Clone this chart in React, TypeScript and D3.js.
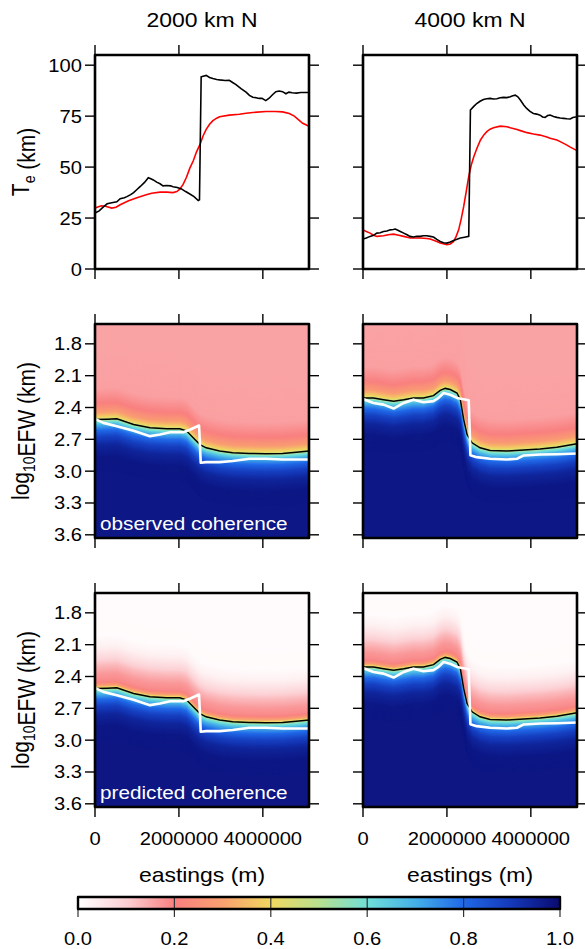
import { useEffect, useRef } from "react";
import * as d3 from "d3";

type Pt = [number, number];

const FONT = "'Liberation Sans', Arial, Helvetica, sans-serif";
const SX = 1.12; // the reference is stretched sideways, so is its text

const titles = ["2000 km N", "4000 km N"];
const teTicks = [0, 25, 50, 75, 100];
const efwTicks = [1.8, 2.1, 2.4, 2.7, 3.0, 3.3, 3.6];
const eastTicks = [0, 2000000, 4000000];
const cbTicks = [0, 0.2, 0.4, 0.6, 0.8, 1.0];

// coherence colour scale
const cohStops = [0, 0.1, 0.2, 0.3, 0.4, 0.5, 0.6, 0.7, 0.8, 0.9, 1.0];
const cohColors = ["#ffffff", "#fcd0d4", "#f98080", "#f9a070", "#f0d860", "#b8e090", "#70e0d8", "#45b0e8", "#2068e8", "#1438b8", "#0a0a70"];

// Te (km) along eastings (m): black = input model, red = recovered
const te2000Black: Pt[] = [
  [0, 27.5], [0.1e6, 28.5], [0.2e6, 30.5], [0.29e6, 32], [0.4e6, 32.5], [0.52e6, 33], [0.6e6, 34.5], [0.7e6, 35],
  [0.76e6, 35.5], [0.85e6, 36.5], [0.92e6, 37.5], [1.0e6, 39], [1.08e6, 40.5], [1.18e6, 42.5], [1.27e6, 44.8],
  [1.33e6, 44.3], [1.39e6, 43.7], [1.47e6, 42.6], [1.55e6, 41.8], [1.62e6, 40.8], [1.71e6, 41], [1.8e6, 40.8],
  [1.86e6, 40.4], [1.96e6, 40], [2.06e6, 39.3], [2.16e6, 38], [2.26e6, 36.8], [2.36e6, 35.5], [2.46e6, 33.6],
  [2.49e6, 34], [2.53e6, 94.3], [2.65e6, 95], [2.73e6, 94], [2.81e6, 93.5], [2.9e6, 93], [2.97e6, 92.8],
  [3.1e6, 92.5], [3.2e6, 92.6], [3.28e6, 91.5], [3.36e6, 90.5], [3.48e6, 88.5], [3.6e6, 86.8], [3.68e6, 85.2],
  [3.76e6, 84.3], [3.84e6, 84], [3.91e6, 83.7], [3.98e6, 83.8], [4.07e6, 82.6], [4.15e6, 83.8], [4.23e6, 85.5],
  [4.31e6, 87], [4.39e6, 87.3], [4.47e6, 87], [4.55e6, 86], [4.62e6, 86.8], [4.7e6, 86.5], [4.8e6, 86.3],
  [4.9e6, 86.6], [5.1e6, 86.6],
];
const te2000Red: Pt[] = [
  [0, 29.9], [0.15e6, 31], [0.25e6, 30.8], [0.4e6, 29.9], [0.5e6, 30.3], [0.6e6, 31.5], [0.8e6, 33.5], [1.0e6, 35],
  [1.2e6, 36.3], [1.35e6, 37.2], [1.55e6, 37.7], [1.71e6, 37.7], [1.86e6, 37.5], [1.95e6, 38], [2.02e6, 39.2],
  [2.1e6, 41.5], [2.18e6, 45], [2.26e6, 49.5], [2.34e6, 53], [2.42e6, 57.5], [2.5e6, 61], [2.58e6, 65.5],
  [2.65e6, 68.5], [2.73e6, 71], [2.81e6, 72.8], [2.9e6, 74], [2.97e6, 74.7], [3.2e6, 75.5], [3.44e6, 75.9],
  [3.6e6, 76.4], [3.76e6, 76.8], [4.07e6, 77.3], [4.3e6, 77.3], [4.47e6, 77.1], [4.63e6, 76.3], [4.75e6, 75],
  [4.86e6, 73], [4.95e6, 71.5], [5.1e6, 70],
];
const te4000Black: Pt[] = [
  [0, 14.7], [0.08e6, 15.2], [0.17e6, 16], [0.25e6, 16.5], [0.33e6, 17.6], [0.41e6, 17.8], [0.49e6, 18.4],
  [0.57e6, 18.6], [0.65e6, 19.2], [0.72e6, 19.4], [0.77e6, 19.6], [0.83e6, 19], [0.89e6, 18.4], [0.97e6, 17.6],
  [1.05e6, 16.8], [1.12e6, 16], [1.2e6, 15.7], [1.28e6, 16.1], [1.36e6, 16], [1.44e6, 16.3], [1.52e6, 16.3],
  [1.6e6, 16], [1.68e6, 15.7], [1.76e6, 14.5], [1.84e6, 13.5], [1.92e6, 12.9], [2.0e6, 12.7], [2.08e6, 13.3],
  [2.16e6, 14], [2.24e6, 14.6], [2.32e6, 15.2], [2.42e6, 15.6], [2.52e6, 16], [2.56e6, 78], [2.64e6, 79.8],
  [2.71e6, 81.2], [2.79e6, 82.3], [2.87e6, 83.2], [2.95e6, 83.5], [3.03e6, 83.7], [3.11e6, 83.4], [3.19e6, 83.5],
  [3.27e6, 84], [3.35e6, 84.2], [3.43e6, 84.1], [3.51e6, 84.5], [3.57e6, 85], [3.63e6, 85.3], [3.69e6, 84.5],
  [3.75e6, 82.9], [3.83e6, 80.5], [3.9e6, 78.8], [3.98e6, 77.3], [4.06e6, 76.3], [4.14e6, 76], [4.22e6, 75.5],
  [4.28e6, 74.6], [4.34e6, 74.4], [4.4e6, 75.3], [4.46e6, 75.5], [4.54e6, 74.8], [4.62e6, 74.4], [4.7e6, 74.1],
  [4.78e6, 73.9], [4.86e6, 73.7], [4.94e6, 73.6], [5.0e6, 74.3], [5.1e6, 74.7],
];
const te4000Red: Pt[] = [
  [0, 19.2], [0.08e6, 18.4], [0.17e6, 17.6], [0.25e6, 16.6], [0.33e6, 16], [0.49e6, 16.3], [0.6e6, 16.8],
  [0.73e6, 17.1], [0.85e6, 16.6], [0.97e6, 16], [1.13e6, 15.2], [1.36e6, 15.2], [1.52e6, 15], [1.6e6, 14.7],
  [1.76e6, 13.5], [1.84e6, 12.7], [2.0e6, 11.9], [2.08e6, 12.3], [2.16e6, 13.5], [2.22e6, 16], [2.28e6, 19.2],
  [2.34e6, 24.5], [2.4e6, 30.7], [2.46e6, 38], [2.52e6, 45.4], [2.58e6, 51], [2.64e6, 55.1], [2.72e6, 59.5],
  [2.8e6, 63.3], [2.88e6, 65.8], [2.95e6, 67.4], [3.03e6, 68.6], [3.11e6, 69.3], [3.27e6, 70.1], [3.43e6, 69.8],
  [3.51e6, 69.3], [3.67e6, 68.4], [3.75e6, 67.9], [3.91e6, 66.9], [4.06e6, 66.2], [4.22e6, 65.7], [4.38e6, 64.8],
  [4.46e6, 64.1], [4.62e6, 63.3], [4.7e6, 62.5], [4.86e6, 60.8], [4.94e6, 59.8], [5.1e6, 58.1],
];

// log10 EFW (km) of the 0.5 coherence transition (black) and of the model (white)
const efw2000Black: Pt[] = [
  [0, 2.514], [0.29e6, 2.51], [0.52e6, 2.507], [0.92e6, 2.56], [1.31e6, 2.59], [1.71e6, 2.6], [2.02e6, 2.6],
  [2.18e6, 2.62], [2.34e6, 2.686], [2.5e6, 2.75], [2.65e6, 2.78], [2.97e6, 2.81], [3.28e6, 2.827], [3.68e6, 2.833],
  [4.07e6, 2.836], [4.47e6, 2.833], [4.86e6, 2.82], [5.1e6, 2.81],
];
const efw2000White: Pt[] = [
  [0, 2.507], [0.2e6, 2.545], [0.52e6, 2.576], [0.92e6, 2.62], [1.31e6, 2.67], [1.55e6, 2.655], [1.79e6, 2.633],
  [2.1e6, 2.633], [2.26e6, 2.61], [2.48e6, 2.57], [2.52e6, 2.92], [2.65e6, 2.915], [2.97e6, 2.915], [3.28e6, 2.905],
  [3.68e6, 2.883], [4.07e6, 2.883], [4.47e6, 2.89], [5.1e6, 2.89],
];
const efw4000Black: Pt[] = [
  [0, 2.31], [0.25e6, 2.31], [0.49e6, 2.326], [0.73e6, 2.34], [0.97e6, 2.326], [1.2e6, 2.31], [1.44e6, 2.31],
  [1.68e6, 2.288], [1.84e6, 2.238], [1.96e6, 2.22], [2.08e6, 2.23], [2.24e6, 2.263], [2.32e6, 2.326], [2.4e6, 2.514],
  [2.48e6, 2.655], [2.6e6, 2.733], [2.79e6, 2.78], [3.03e6, 2.805], [3.43e6, 2.81], [3.83e6, 2.8], [4.22e6, 2.79],
  [4.62e6, 2.774], [5.1e6, 2.742],
];
const efw4000White: Pt[] = [
  [0, 2.32], [0.25e6, 2.357], [0.49e6, 2.373], [0.73e6, 2.41], [0.97e6, 2.357], [1.2e6, 2.326], [1.44e6, 2.35],
  [1.68e6, 2.34], [1.8e6, 2.31], [1.92e6, 2.263], [2.08e6, 2.28], [2.24e6, 2.31], [2.52e6, 2.332], [2.56e6, 2.849],
  [2.71e6, 2.868], [3.03e6, 2.883], [3.43e6, 2.89], [3.67e6, 2.883], [3.83e6, 2.852], [4.22e6, 2.843],
  [4.62e6, 2.84], [5.1e6, 2.833],
];

// coherence against depth offset from the black line (log10 units, + is longer wavelength)
const obsOffset = [-1.3, -0.3, -0.16, -0.08, -0.03, 0, 0.02, 0.05, 0.1, 0.16, 0.24, 0.35, 1.3];
const obsCoh = [0.15, 0.16, 0.2, 0.28, 0.38, 0.5, 0.6, 0.7, 0.8, 0.88, 0.94, 0.97, 0.98];
const predOffset = [-1.3, -0.5, -0.4, -0.3, -0.22, -0.14, -0.07, -0.03, 0, 0.02, 0.05, 0.1, 0.16, 0.24, 0.35, 1.3];
const predCoh = [0.0, 0.01, 0.03, 0.08, 0.13, 0.17, 0.19, 0.3, 0.5, 0.6, 0.7, 0.8, 0.88, 0.94, 0.97, 0.99];

const colX = [95, 363];
const rowY = [55, 324, 593];
const PW = 214;
const PH = 214;

export default function App() {
  const svgRef = useRef<SVGSVGElement>(null);

  useEffect(() => {
    const svg = d3.select(svgRef.current);
    svg.selectAll("*").remove();

    const cmap = d3.scaleLinear<string>().domain(cohStops).range(cohColors).interpolate(d3.interpolateRgb).clamp(true);
    const defs = svg.append("defs");

    const text = (g: any, x: number, y: number, s: string, size: number, anchor = "middle", fill = "#000") =>
      g.append("text")
        .attr("transform", `translate(${x},${y}) scale(${SX},1)`)
        .attr("text-anchor", anchor)
        .attr("font-family", FONT)
        .attr("font-size", size)
        .attr("fill", fill)
        .text(s);

    const panel = (col: number, row: number) => {
      const left = colX[col];
      const top = rowY[row];
      const x = d3.scaleLinear().domain([0, 5.1e6]).range([left, left + PW]);
      const y = row === 0
        ? d3.scaleLinear().domain([0, 105]).range([top + PH, top])
        : d3.scaleLinear().domain([1.613, 3.63]).range([top, top + PH]);
      return { left, top, x, y, g: svg.append("g") };
    };

    const frame = (p: any, yTicks: number[], showY: boolean, showX: boolean, fmt: (v: number) => string) => {
      const { g, x, y, left, top } = p;
      const tk = g.append("g").attr("stroke", "#000").attr("stroke-width", 1.4);
      eastTicks.forEach((t) => {
        tk.append("line").attr("x1", x(t)).attr("x2", x(t)).attr("y1", top).attr("y2", top - 10);
        tk.append("line").attr("x1", x(t)).attr("x2", x(t)).attr("y1", top + PH).attr("y2", top + PH + 10);
      });
      yTicks.forEach((t) => {
        tk.append("line").attr("x1", left).attr("x2", left - 10).attr("y1", y(t)).attr("y2", y(t));
        tk.append("line").attr("x1", left + PW).attr("x2", left + PW + 10).attr("y1", y(t)).attr("y2", y(t));
      });
      g.append("rect")
        .attr("x", left).attr("y", top).attr("width", PW).attr("height", PH)
        .attr("fill", "none").attr("stroke", "#000").attr("stroke-width", 2.6).attr("stroke-linejoin", "round");
      if (showY) yTicks.forEach((t) => text(g, left - 13, y(t) + 6.5, fmt(t), 18, "end"));
      if (showX) eastTicks.forEach((t) => text(g, x(t), top + PH + 38, String(t), 18));
    };

    const lineOf = (p: any) => d3.line<Pt>().x((d) => p.x(d[0])).y((d) => p.y(d[1]));

    // --- Te panels ---
    const teSets: [Pt[], Pt[]][] = [[te2000Black, te2000Red], [te4000Black, te4000Red]];
    teSets.forEach(([blk, red], col) => {
      const p = panel(col, 0);
      p.g.append("path").datum(red).attr("d", lineOf(p)).attr("fill", "none").attr("stroke", "#ff0000").attr("stroke-width", 1.6);
      p.g.append("path").datum(blk).attr("d", lineOf(p)).attr("fill", "none").attr("stroke", "#000").attr("stroke-width", 1.6);
      frame(p, teTicks, col === 0, false, (v) => String(v));
      text(svg, p.left + PW / 2, 27, titles[col], 20.5);
    });

    // --- coherence panels ---
    const efwSets: [Pt[], Pt[]][] = [[efw2000Black, efw2000White], [efw4000Black, efw4000White]];
    const profiles: [number[], number[]][] = [[obsOffset, obsCoh], [predOffset, predCoh]];
    [1, 2].forEach((row) => {
      efwSets.forEach(([blk, wht], col) => {
        const p = panel(col, row);
        const [offs, cohs] = profiles[row - 1];
        const prof = d3.scaleLinear().domain(offs).range(cohs).clamp(true);
        const clipId = `clip-${row}-${col}`;
        defs.append("clipPath").attr("id", clipId)
          .append("rect").attr("x", p.left).attr("y", p.top).attr("width", PW).attr("height", PH);
        const hm = p.g.append("g").attr("clip-path", `url(#${clipId})`);
        hm.append("rect").attr("x", p.left).attr("y", p.top).attr("width", PW).attr("height", PH)
          .attr("fill", cmap(prof(-0.7)));
        d3.range(-0.7, 0.5, 0.008).forEach((d) => {
          const area = d3.area<Pt>().x((v) => p.x(v[0])).y0((v) => p.y(v[1] + d)).y1(p.top + PH + 5);
          hm.append("path").datum(blk).attr("d", area).attr("fill", cmap(prof(d)));
        });
        hm.append("path").datum(blk).attr("d", lineOf(p)).attr("fill", "none").attr("stroke", "#000").attr("stroke-width", 1.5);
        hm.append("path").datum(wht).attr("d", lineOf(p)).attr("fill", "none").attr("stroke", "#fff").attr("stroke-width", 2.6).attr("stroke-linejoin", "round");
        if (col === 0) {
          text(p.g, p.left + 5, p.top + PH - 8, row === 1 ? "observed coherence" : "predicted coherence", 18.5, "start", "#fff");
        }
        frame(p, efwTicks, col === 0, row === 2, (v) => v.toFixed(1));
        if (row === 2) text(svg, p.left + PW / 2, 882, "eastings (m)", 20.5);
      });
    });

    // --- y-axis titles ---
    const yTitle = (cy: number, parts: [string, boolean][]) => {
      const t = svg.append("text")
        .attr("transform", `translate(29,${cy}) scale(${SX},1) rotate(-90)`)
        .attr("text-anchor", "middle").attr("font-family", FONT).attr("font-size", 21);
      parts.forEach(([s, sub]) => {
        t.append("tspan").attr("font-size", sub ? 14 : 21).attr("dy", sub ? 5 : 0).text(s);
        if (sub) t.append("tspan").attr("dy", -5).text("");
      });
    };
    yTitle(rowY[0] + PH / 2, [["T", false], ["e", true], [" (km)", false]]);
    yTitle(rowY[1] + PH / 2, [["log", false], ["10", true], ["EFW (km)", false]]);
    yTitle(rowY[2] + PH / 2, [["log", false], ["10", true], ["EFW (km)", false]]);

    // --- colour bar ---
    const cb = d3.scaleLinear().domain([0, 1]).range([78, 560]);
    const grad = defs.append("linearGradient").attr("id", "cbgrad").attr("x1", "0%").attr("x2", "100%");
    cohStops.forEach((s, i) => grad.append("stop").attr("offset", `${s * 100}%`).attr("stop-color", cohColors[i]));
    svg.append("rect").attr("x", cb(0)).attr("y", 897).attr("width", cb(1) - cb(0)).attr("height", 12).attr("fill", "url(#cbgrad)");
    cbTicks.forEach((t) => {
      if (t > 0 && t < 1) svg.append("line").attr("x1", cb(t)).attr("x2", cb(t)).attr("y1", 897).attr("y2", 909).attr("stroke", "#333").attr("stroke-width", 1.2);
      svg.append("line").attr("x1", cb(t)).attr("x2", cb(t)).attr("y1", 909).attr("y2", 917).attr("stroke", "#333").attr("stroke-width", 1.2);
      text(svg, cb(t), 945, t.toFixed(1), 18);
    });
    svg.append("rect").attr("x", cb(0)).attr("y", 897).attr("width", cb(1) - cb(0)).attr("height", 12)
      .attr("fill", "none").attr("stroke", "#000").attr("stroke-width", 2.4).attr("stroke-linejoin", "round");
  }, []);

  return (
    <svg ref={svgRef} width={585} height={949}
      style={{ position: "absolute", left: 0, top: 0, background: "#fff" }} />
  );
}
